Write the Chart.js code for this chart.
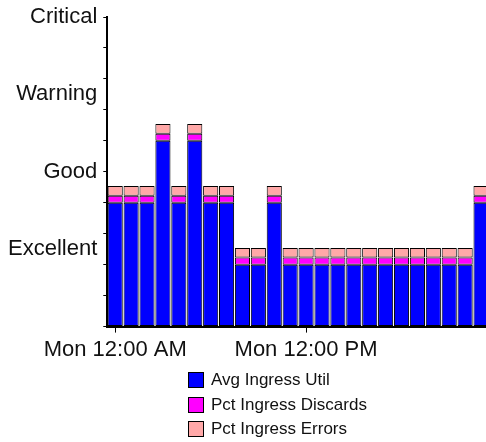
<!DOCTYPE html>
<html>
<head>
<meta charset="utf-8">
<script src="https://cdn.jsdelivr.net/npm/chart.js@4/dist/chart.umd.min.js"></script>
<style>
  html, body { margin: 0; padding: 0; overflow: hidden; background: #fff; width: 486px; height: 442px; }
  #wrap { position: absolute; left: 0; top: 0; width: 492px; height: 442px; }
  #legend { position: absolute; left: 188px; top: 368px; font-family: "Liberation Sans", Arial, sans-serif; font-size: 17px; color: #111; }
  .item { display: flex; align-items: center; height: 24.5px; }
  .box { width: 14px; height: 14px; border: 1px solid #000; margin-right: 7px; box-sizing: content-box; }
</style>
</head>
<body>
<div id="wrap"><canvas id="c" width="492" height="442"></canvas></div>
<div id="legend"></div>
<script>
// ---- data ----
const categories = ["Mon 12:00 AM","","","","","","","","","","","",
                    "Mon 12:00 PM","","","","","","","","","","",""];
const avgIngressUtil      = [4,4,4,6,4,6,4,4,2,2,4,2,2,2,2,2,2,2,2,2,2,2,2,4];
const pctIngressDiscards  = [0.23,0.23,0.23,0.23,0.23,0.23,0.23,0.23,0.23,0.23,0.23,0.23,0.23,0.23,0.23,0.23,0.23,0.23,0.23,0.23,0.23,0.23,0.23,0.23];
const pctIngressErrors    = [0.31,0.31,0.31,0.31,0.31,0.31,0.31,0.31,0.31,0.31,0.31,0.31,0.31,0.31,0.31,0.31,0.31,0.31,0.31,0.31,0.31,0.31,0.31,0.31];
const seriesNames = ["Avg Ingress Util","Pct Ingress Discards","Pct Ingress Errors"];
const yTickValues = [2.5, 5, 7.5, 10];
const yTickLabels = ["Excellent","Good","Warning","Critical"];
const yMinorTicks = [0,1,2,3,4,5,6,7,8,9,10];

const colors = ["#0000ff","#ff00ff","#ffa8a8"];
const XFONT = { family: "'Liberation Sans', Arial, sans-serif", size: 22 };
const YFONT = { family: "'Liberation Sans', Arial, sans-serif", size: 22, lineHeight: 1.0 };

function mk(label, data, color) {
  return { label, data, backgroundColor: color, borderColor: "#000", borderWidth: 1,
           categoryPercentage: 1.0, barPercentage: 0.95, borderSkipped: false };
}

const chart = new Chart(document.getElementById("c"), {
  type: "bar",
  data: {
    labels: categories,
    datasets: [
      mk(seriesNames[0], avgIngressUtil, colors[0]),
      mk(seriesNames[1], pctIngressDiscards, colors[1]),
      mk(seriesNames[2], pctIngressErrors, colors[2])
    ]
  },
  options: {
    responsive: false,
    animation: false,
    layout: { padding: { left: 2, right: 3, top: 0, bottom: 75 } },
    plugins: { legend: { display: false }, tooltip: { enabled: false } },
    scales: {
      x: {
        stacked: true,
        border: { color: "#000", width: 2 },
        grid: {
          drawOnChartArea: false, tickLength: 6, offset: false,
          color: (ctx) => (ctx.tick && ctx.tick.label) ? "#000" : "rgba(0,0,0,0)"
        },
        ticks: { autoSkip: false, maxRotation: 0, color: "#111", font: XFONT, padding: 4 }
      },
      y: {
        stacked: true, min: 0, max: 10,
        afterBuildTicks: (scale) => {
          const vals = Array.from(new Set(yMinorTicks.concat(yTickValues))).sort((a,b)=>a-b);
          scale.ticks = vals.map(v => ({ value: v }));
        },
        border: { color: "#000", width: 2 },
        grid: {
          drawOnChartArea: false, tickLength: 4,
          color: (ctx) => (ctx.tick && Number.isInteger(ctx.tick.value)) ? "#000" : "rgba(0,0,0,0)"
        },
        ticks: {
          autoSkip: false, color: "#111", font: YFONT, padding: 6,
          callback: (v) => { const i = yTickValues.indexOf(v); return i >= 0 ? yTickLabels[i] : ""; }
        }
      }
    }
  }
});

// HTML legend from datasets
const lg = document.getElementById("legend");
chart.data.datasets.forEach(ds => {
  const it = document.createElement("div"); it.className = "item";
  const b = document.createElement("span"); b.className = "box"; b.style.background = ds.backgroundColor;
  const t = document.createElement("span"); t.textContent = ds.label;
  it.appendChild(b); it.appendChild(t); lg.appendChild(it);
});
</script>
</body>
</html>
